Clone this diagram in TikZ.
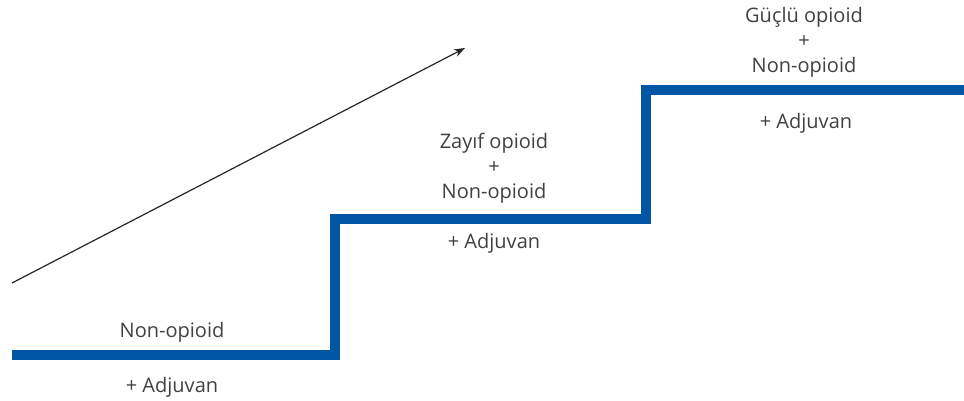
\documentclass[tikz,border=0pt]{standalone}
\usepackage{fontspec}
\setmainfont{Open Sans}
\usetikzlibrary{arrows.meta}
\definecolor{stairblue}{RGB}{0,86,163}
\definecolor{labelgray}{RGB}{65,65,65}
\tikzset{
  stair/.style={draw=stairblue, line width=10pt, line join=miter},
  label/.style={inner sep=0pt, anchor=base, text=labelgray, font=\fontsize{20}{24}\selectfont},
  trend/.style={draw=black!85, line width=1.2pt, -{Stealth[length=11pt,width=8pt]}}
}
\begin{document}
\begin{tikzpicture}[x=1pt,y=-1pt]
\useasboundingbox (0,0) rectangle (964,400);

% staircase
\coordinate (s0) at (12,355);
\coordinate (s1) at (335,355);
\coordinate (s2) at (335,219);
\coordinate (s3) at (646,219);
\coordinate (s4) at (646,90);
\coordinate (s5) at (964,90);
\draw[stair] (s0) -- (s1) -- (s2) -- (s3) -- (s4) -- (s5);

% rising trend arrow
\coordinate (a0) at (12,283);
\coordinate (a1) at (465,48);
\draw[trend] (a0) -- (a1);

% step 1
\node[label] (n1) at (172,337) {Non-opioid};
\node[label] (j1) at (172,392) {+ Adjuvan};

% step 2
\node[label] (w2) at (494,148) {Zayıf opioid};
\node[label] (p2) at (494,173) {+};
\node[label] (n2) at (494,198) {Non-opioid};
\node[label] (j2) at (494,248) {+ Adjuvan};

% step 3
\node[label] (s3t) at (804,22) {Güçlü opioid};
\node[label] (p3) at (804,47) {+};
\node[label] (n3) at (804,72) {Non-opioid};
\node[label] (j3) at (806,128) {+ Adjuvan};
\end{tikzpicture}
\end{document}
